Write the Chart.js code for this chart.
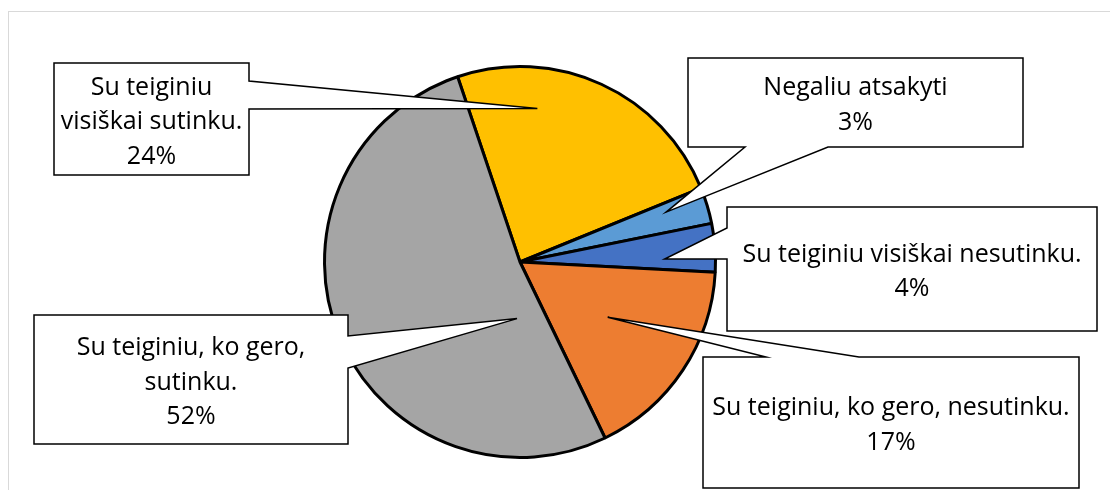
<!DOCTYPE html>
<html>
<head>
<meta charset="utf-8">
<script src="https://cdn.jsdelivr.net/npm/chart.js@4.4.1/dist/chart.umd.min.js"></script>
<style>
    html, body { margin: 0; padding: 0; background: #fff; }
    canvas { display: block; }
</style>
</head>
<body>
<canvas id="pieChart" width="1110" height="490"></canvas>
<script>
const categories = [
    ['Su teiginiu', 'visiškai sutinku.'],
    ['Negaliu atsakyti'],
    ['Su teiginiu visiškai nesutinku.'],
    ['Su teiginiu, ko gero, nesutinku.'],
    ['Su teiginiu, ko gero,', 'sutinku.']
];
const shares = [24, 3, 4, 17, 52];
const sliceColors = ['#FFC000', '#5B9BD5', '#4472C4', '#ED7D31', '#A5A5A5'];

// callout boxes, same order as the slices
// side = edge the pointer leaves from, base = its two ends on that edge,
// tip = [share of the slice angle, share of the radius]
const callouts = [
    { x: 54, y: 63, w: 195, h: 112, side: 'right', base: [81, 109], tip: [0.29, 0.79] },
    { x: 688, y: 58, w: 335, h: 89, side: 'bottom', base: [745, 828], tip: [0.31, 0.79] },
    { x: 727, y: 207, w: 370, h: 124, side: 'left', base: [228, 259], tip: [0.71, 0.74] },
    { x: 703, y: 357, w: 376, h: 131, side: 'top', base: [766, 859], tip: [0.477, 0.53] },
    { x: 34, y: 315, w: 314, h: 129, side: 'right', base: [336, 368], tip: [0.154, 0.29] }
];

const FONT = '25px "Open Sans"';
const LINE_H = 34.5;

const framePlugin = {
    id: 'frame',
    beforeDraw(chart) {
        const ctx = chart.ctx;
        ctx.save();
        ctx.fillStyle = '#fff';
        ctx.fillRect(0, 0, chart.width, chart.height);
        ctx.strokeStyle = '#d9d9d9';
        ctx.lineWidth = 1;
        ctx.strokeRect(8.5, 11.5, chart.width + 20, chart.height + 20);
        ctx.restore();
    }
};

function calloutPath(ctx, c, tx, ty) {
    const r = c.x + c.w, b = c.y + c.h;
    const lo = Math.min(c.base[0], c.base[1]), hi = Math.max(c.base[0], c.base[1]);
    ctx.beginPath();
    ctx.moveTo(c.x, c.y);
    if (c.side === 'top') { ctx.lineTo(lo, c.y); ctx.lineTo(tx, ty); ctx.lineTo(hi, c.y); }
    ctx.lineTo(r, c.y);
    if (c.side === 'right') { ctx.lineTo(r, lo); ctx.lineTo(tx, ty); ctx.lineTo(r, hi); }
    ctx.lineTo(r, b);
    if (c.side === 'bottom') { ctx.lineTo(hi, b); ctx.lineTo(tx, ty); ctx.lineTo(lo, b); }
    ctx.lineTo(c.x, b);
    if (c.side === 'left') { ctx.lineTo(c.x, hi); ctx.lineTo(tx, ty); ctx.lineTo(c.x, lo); }
    ctx.closePath();
}

const calloutPlugin = {
    id: 'callouts',
    afterDatasetsDraw(chart) {
        const ctx = chart.ctx;
        const arcs = chart.getDatasetMeta(0).data;
        const labels = chart.data.labels;
        const values = chart.data.datasets[0].data;
        ctx.save();
        callouts.forEach((c, i) => {
            const arc = arcs[i];
            const ang = arc.startAngle + (arc.endAngle - arc.startAngle) * c.tip[0];
            const rad = arc.outerRadius * c.tip[1];
            const tx = arc.x + Math.cos(ang) * rad;
            const ty = arc.y + Math.sin(ang) * rad;

            calloutPath(ctx, c, tx, ty);
            ctx.fillStyle = '#fff';
            ctx.fill();
            ctx.strokeStyle = '#000';
            ctx.lineWidth = 1.5;
            ctx.lineJoin = 'miter';
            ctx.stroke();

            const lines = labels[i].concat([values[i] + '%']);
            const cx = c.x + c.w / 2;
            const cy = c.y + c.h / 2;
            ctx.fillStyle = '#000';
            ctx.font = FONT;
            ctx.textAlign = 'center';
            ctx.textBaseline = 'alphabetic';
            lines.forEach((line, k) => {
                ctx.fillText(line, cx, cy + (k - (lines.length - 1) / 2) * LINE_H + 10);
            });
        });
        ctx.restore();
    }
};

new Chart(document.getElementById('pieChart'), {
    type: 'pie',
    data: {
        labels: categories,
        datasets: [{
            data: shares,
            backgroundColor: sliceColors,
            borderColor: '#000',
            borderWidth: 3,
            radius: 195.5
        }]
    },
    options: {
        responsive: false,
        animation: false,
        rotation: -18.6,
        layout: { padding: { left: 0, right: 70, top: 34, bottom: 0 } },
        plugins: {
            legend: { display: false },
            tooltip: { enabled: false }
        }
    },
    plugins: [framePlugin, calloutPlugin]
});
</script>
</body>
</html>
